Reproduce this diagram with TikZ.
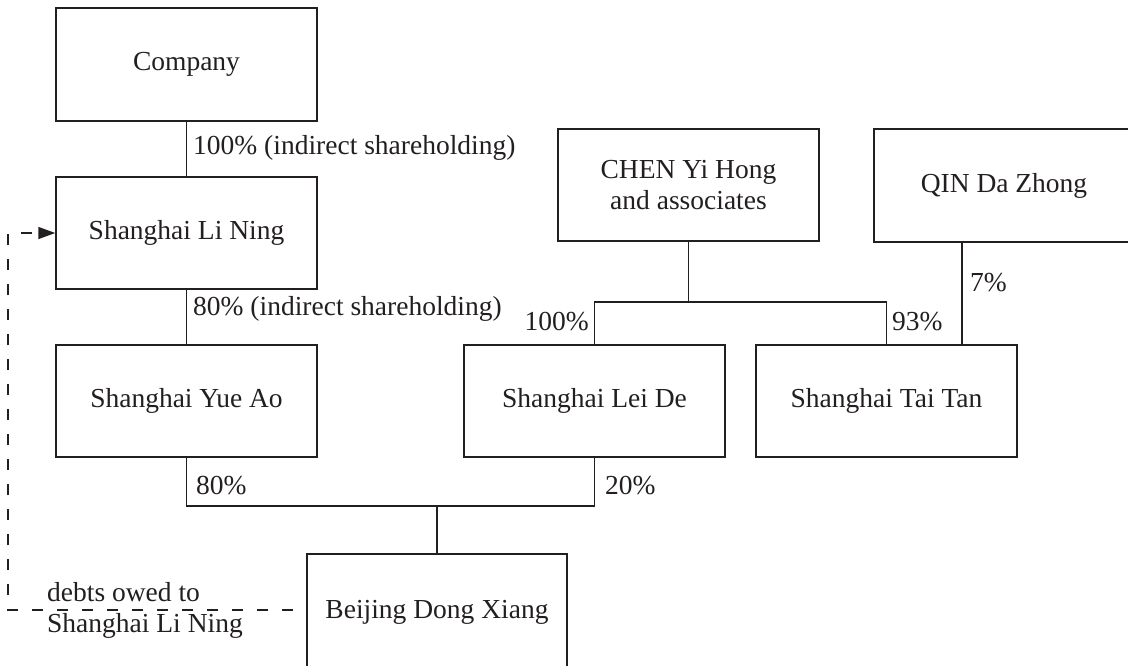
\documentclass[tikz,border=0pt]{standalone}
\usepackage{fontspec}
\setmainfont{Liberation Serif}
\usetikzlibrary{arrows.meta}
\definecolor{ink}{HTML}{231F20}
\begin{document}
\begin{tikzpicture}[x=1pt,y=-1pt,
  every node/.style={font=\fontsize{27.5}{31}\selectfont, text=ink},
  box/.style={draw=ink, line width=1.5pt, minimum width=261pt, minimum height=112pt, inner sep=0pt, align=center},
  link/.style={draw=ink, line width=1.5pt},
  pct/.style={inner sep=0pt},
  debt/.style={draw=ink, line width=1.5pt, dash pattern=on 11pt off 14pt, dash phase=11pt}]
\useasboundingbox (0,0) rectangle (1128,665);
\clip (0,0) rectangle (1128,665);
% boxes
\node[box, minimum height=113pt] (company) at (186.5,64.5) {Company};
\node[box] (lining) at (186.5,233) {Shanghai Li Ning};
\node[box] (yueao) at (186.5,401) {Shanghai Yue Ao};
\node[box] (leide) at (594.5,401) {Shanghai Lei De};
\node[box] (taitan) at (886.5,401) {Shanghai Tai Tan};
\node[box] (chen) at (688.5,185) {CHEN Yi Hong\\and associates};
\node[box, minimum width=260pt, minimum height=113pt] (qin) at (1004,185.5) {QIN Da Zhong};
\node[box, minimum width=260pt, minimum height=116pt] (beijing) at (437,612) {\raisebox{2pt}{Beijing Dong Xiang}};
% junctions
\coordinate (jc) at (688.5,302);
\coordinate (jb) at (437,506);
\coordinate (q7) at (962,300);
\coordinate (dl) at (8,400);
\coordinate (bw) at (307,610);
% connectors
\draw[link] (company) -- (lining);
\draw[link] (lining) -- (yueao);
\draw[link] (chen.south) -- (jc);
\draw[link] (leide.north) |- (jc) -| (taitan.north);
\draw[link] (qin.south -| q7) -- (taitan.north -| q7);
\draw[link] (yueao.south) |- (jb) -| (leide.south);
\draw[link] (jb) -- (beijing.north);
\draw[debt, -{Triangle[length=17pt,width=12pt]}] (bw) -| (dl) |- (lining.west);
% labels
\node[pct, anchor=west] (l1) at (193,148) {100\% (indirect shareholding)};
\node[pct, anchor=west] (l2) at (193,309) {80\% (indirect shareholding)};
\node[pct, anchor=east] (l3) at (589,322) {100\%};
\node[pct, anchor=west] (l4) at (892,322) {93\%};
\node[pct, anchor=west] (l5) at (970,283) {7\%};
\node[pct, anchor=west] (l6) at (196,486) {80\%};
\node[pct, anchor=west] (l7) at (605,486) {20\%};
\node[pct, anchor=west, align=left] (l8) at (47,610) {debts owed to\\Shanghai Li Ning};
\end{tikzpicture}
\end{document}
